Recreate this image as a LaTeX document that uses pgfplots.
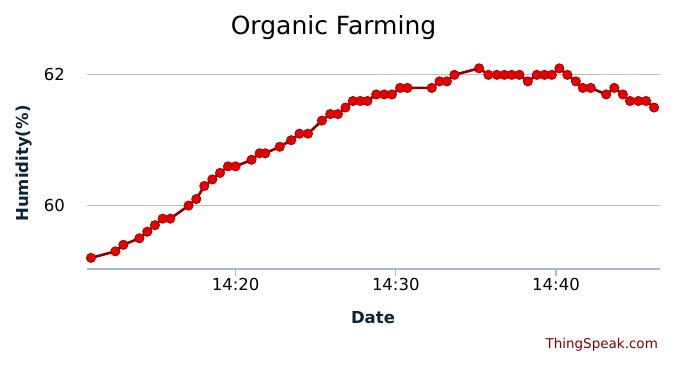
\documentclass[border=0pt]{standalone}
\usepackage{pgfplots}
\pgfplotsset{compat=1.18}
\usepackage{fontspec}
\setmainfont{DejaVu Sans}
\definecolor{gridc}{RGB}{192,192,192}
\definecolor{axisc}{RGB}{170,186,205}
\definecolor{navy}{RGB}{13,35,58}
\definecolor{linec}{RGB}{139,0,0}
\definecolor{markfill}{RGB}{230,0,0}
\definecolor{markdraw}{RGB}{165,0,0}
\definecolor{tsred}{RGB}{128,0,0}
\begin{document}
\begin{tikzpicture}[x=1bp,y=1bp]
\useasboundingbox (-87,-96) rectangle (613,269);
\begin{axis}[
  at={(0,0)}, anchor=south west,
  scale only axis, width=573bp, height=219bp,
  xmin=10.73, xmax=46.49, ymin=59.03, ymax=62.38,
  axis line style={draw=none},
  axis x line*=bottom,
  axis y line*=left,
  xtick={20,30,40}, xticklabels={14:20,14:30,14:40},
  ytick={60,62},
  ymajorgrids, grid style={gridc, line width=1bp},
  major tick length=7bp,
  tick align=outside,
  xtick style={draw=axisc, line width=1.2bp},
  ytick style={draw=none},
  tick label style={font=\fontsize{16.5bp}{19bp}\selectfont, text=black, inner sep=0pt},
  xticklabel style={anchor=north, yshift=-2bp},
  yticklabel style={anchor=east, xshift=-15bp},
  /pgf/number format/assume math mode=true,
  clip=false,
]
\draw[axisc, line width=1.2bp] (rel axis cs:0,0) -- (rel axis cs:1,0);
\addplot[color=linec, line width=2.6bp, mark=*, mark size=4.6bp,
  mark options={fill=markfill, draw=markdraw, line width=0.8bp}] coordinates {
(10.98,59.2) (12.5,59.3) (13.0,59.4) (14.0,59.5) (14.49,59.6) (14.97,59.7)
(15.45,59.8) (15.93,59.8) (17.07,60.0) (17.55,60.1) (18.05,60.3) (18.55,60.4)
(19.03,60.5) (19.53,60.6) (20.0,60.6) (21.0,60.7) (21.5,60.8) (21.85,60.8)
(22.76,60.9) (23.47,61.0) (23.99,61.1) (24.52,61.1) (25.39,61.3) (25.91,61.4)
(26.39,61.4) (26.86,61.5) (27.32,61.6) (27.78,61.6) (28.23,61.6) (28.78,61.7)
(29.28,61.7) (29.76,61.7) (30.27,61.8) (30.73,61.8) (32.25,61.8) (32.73,61.9)
(33.19,61.9) (33.66,62.0) (35.20,62.1) (35.78,62.0) (36.31,62.0) (36.78,62.0)
(37.24,62.0) (37.72,62.0) (38.24,61.9) (38.80,62.0) (39.28,62.0) (39.74,62.0)
(40.21,62.1) (40.71,62.0) (41.24,61.9) (41.67,61.8) (42.17,61.8) (43.13,61.7)
(43.64,61.8) (44.17,61.7) (44.62,61.6) (45.14,61.6) (45.62,61.6) (46.12,61.5)
};
\end{axis}
\node[font=\fontsize{25bp}{29bp}\selectfont, text=black, anchor=base, inner sep=0pt] at (246.5,235) {Organic Farming};
\node[font=\fontsize{16.5bp}{19bp}\selectfont\bfseries, text=navy, anchor=base, inner sep=0pt] at (286,-54) {Date};
\node[font=\fontsize{16.5bp}{19bp}\selectfont\bfseries, text=navy, rotate=90, inner sep=0pt] at (-63,105.5) {Humidity(\%)};
\node[font=\fontsize{13.5bp}{16bp}\selectfont, text=tsred, anchor=base, inner sep=0pt] at (514.7,-79) {ThingSpeak.com};
\end{tikzpicture}
\end{document}
